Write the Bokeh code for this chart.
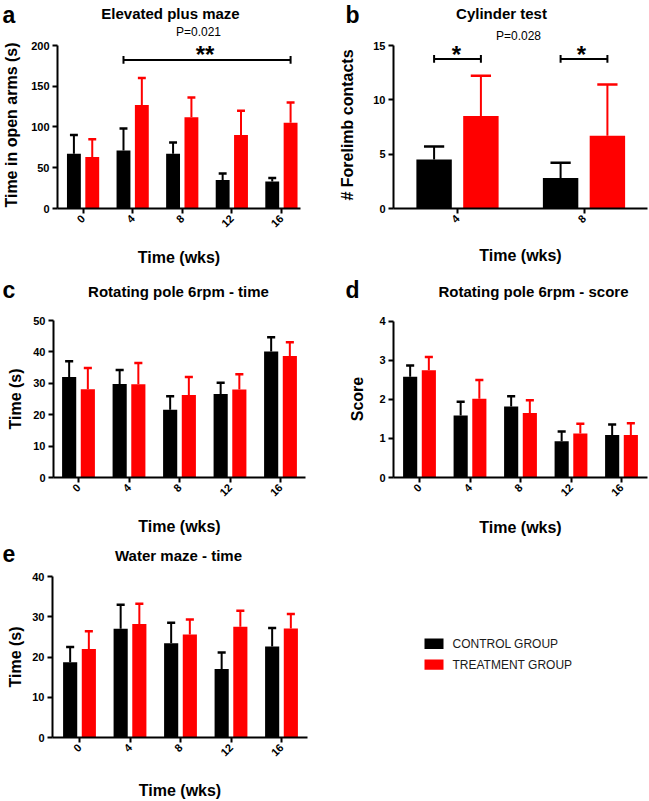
import math
from bokeh.plotting import figure
from bokeh.models import Range1d, FixedTicker, Label, ColumnDataSource
from bokeh.layouts import column, row
from bokeh.embed import file_html
from bokeh.resources import INLINE
from bokeh.core.properties import value

# ---------------- data ----------------
groups = ["CONTROL GROUP", "TREATMENT GROUP"]
group_colors = ["#000000", "#ff0000"]

weeks_all = ["0", "4", "8", "12", "16"]
weeks_cyl = ["4", "8"]

# a: Elevated plus maze (time in open arms, s)
epm_ctrl = [67, 71, 67, 35, 33]
epm_ctrl_sem = [23, 27, 14, 8, 4.5]
epm_treat = [63, 127, 112, 90, 105]
epm_treat_sem = [22, 33, 24, 30, 25]

# b: Cylinder test (# forelimb contacts)
cyl_ctrl = [4.5, 2.8]
cyl_ctrl_sem = [1.2, 1.4]
cyl_treat = [8.5, 6.7]
cyl_treat_sem = [3.7, 4.7]

# c: Rotating pole 6rpm - time (s)
rpt_ctrl = [32.0, 29.8, 21.6, 26.6, 40.1]
rpt_ctrl_sem = [5.0, 4.4, 4.3, 3.6, 4.6]
rpt_treat = [28.1, 29.7, 26.3, 28.0, 38.7]
rpt_treat_sem = [6.8, 6.8, 5.7, 4.9, 4.4]

# d: Rotating pole 6rpm - score
rps_ctrl = [2.58, 1.59, 1.82, 0.93, 1.09]
rps_ctrl_sem = [0.29, 0.35, 0.26, 0.25, 0.27]
rps_treat = [2.75, 2.02, 1.65, 1.13, 1.09]
rps_treat_sem = [0.34, 0.48, 0.33, 0.25, 0.30]

# e: Water maze - time (s)
wm_ctrl = [18.7, 27.0, 23.4, 17.0, 22.6]
wm_ctrl_sem = [3.8, 6.0, 5.1, 4.1, 4.6]
wm_treat = [22.0, 28.2, 25.6, 27.5, 27.1]
wm_treat_sem = [4.4, 5.0, 3.7, 4.0, 3.6]

panel_titles = ["Elevated plus maze", "Cylinder test", "Rotating pole 6rpm - time",
                "Rotating pole 6rpm - score", "Water maze - time"]
panel_letters = ["a", "b", "c", "d", "e"]
p_values = ["P=0.021", "P=0.028"]

# ---------------- style ----------------
FONT = "Liberation Sans"
BAR_W = 0.28
OFF = 0.185
CAP = 0.16
PAGE_W = 649


def panel(cats, ctrl, ctrl_sem, treat, treat_sem, ylabel, yticks,
          origin, size, frame, ytop_px, x0px, step_px, ylab_standoff, xlab_standoff):
    ox, oy = origin
    w, h = size
    l, t, r, b = frame
    ytop = yticks[-1]
    ymax = ytop * (b - t) / (b - ytop_px)
    xr = ((l - x0px) / step_px, (r - x0px) / step_px)
    p = figure(width=w, height=h, x_range=Range1d(*xr), y_range=Range1d(0, ymax),
               output_backend="svg", toolbar_location=None,
               min_border_left=l - ox, min_border_right=ox + w - r,
               min_border_top=t - oy, min_border_bottom=oy + h - b)
    p.outline_line_color = None
    p.grid.visible = False

    idx = list(range(len(cats)))
    for vals, sems, color, sign in ((ctrl, ctrl_sem, group_colors[0], -1),
                                    (treat, treat_sem, group_colors[1], 1)):
        xs = [i + sign * OFF for i in idx]
        tops = [v + s for v, s in zip(vals, sems)]
        src = ColumnDataSource(dict(x=xs, top=vals, err=tops,
                                    cl=[x - CAP / 2 for x in xs],
                                    cr=[x + CAP / 2 for x in xs]))
        p.segment(x0="x", y0="top", x1="x", y1="err", line_color=color,
                  line_width=2, source=src)
        p.segment(x0="cl", y0="err", x1="cr", y1="err", line_color=color,
                  line_width=2.5, source=src)
        p.vbar(x="x", top="top", bottom=0, width=BAR_W, fill_color=color,
               line_color=None, source=src)

    p.xaxis.ticker = FixedTicker(ticks=idx)
    p.xaxis.major_label_overrides = {i: c for i, c in enumerate(cats)}
    p.xaxis.major_label_orientation = math.pi / 4
    p.yaxis.ticker = FixedTicker(ticks=yticks)
    p.yaxis.bounds = (0, ytop)
    p.xaxis.axis_label = "Time (wks)"
    p.yaxis.axis_label = ylabel
    for ax in (p.xaxis[0], p.yaxis[0]):
        ax.axis_line_width = 2
        ax.axis_line_color = "black"
        ax.major_tick_line_width = 2
        ax.major_tick_out = 5
        ax.major_tick_in = 0
        ax.minor_tick_line_color = None
        ax.major_label_text_font = FONT
        ax.major_label_text_font_style = "bold"
        ax.major_label_text_font_size = "11px"
        ax.major_label_text_color = "black"
        ax.major_label_standoff = 3
        ax.axis_label_text_font = FONT
        ax.axis_label_text_font_style = "bold"
        ax.axis_label_text_font_size = "16px"
        ax.axis_label_text_color = "black"
    p.yaxis.axis_label_standoff = ylab_standoff
    p.xaxis.axis_label_standoff = xlab_standoff

    def dx(px):
        return xr[0] + (px - l) / (r - l) * (xr[1] - xr[0])

    def dy(py):
        return (b - py) / (b - ytop_px) * ytop

    return p, dx, dy


def star(p, x, y, text):
    p.add_layout(Label(x=x, y=y, text=text, text_font=FONT, text_font_size="24px",
                       text_font_style="bold", text_align="center",
                       text_baseline="alphabetic", text_color="black"))


def bracket(p, dx, dy, xa, xb, ypx):
    y = dy(ypx)
    hh = dy(ypx - 4) - y
    p.segment(x0=[xa, xa, xb], y0=[y, y - hh, y - hh], x1=[xb, xa, xb],
              y1=[y, y + hh, y + hh], line_color="black", line_width=2)


def header(oy, h, items):
    hp = figure(width=PAGE_W, height=h, x_range=Range1d(0, PAGE_W), y_range=Range1d(h, 0),
                output_backend="svg", toolbar_location=None, min_border=0,
                x_axis_location=None, y_axis_location=None)
    hp.outline_line_color = None
    hp.grid.visible = False
    for text, x, y, size, bold, align in items:
        hp.text(x=[x], y=[y - oy], text=[text], text_font=value(FONT),
                text_font_size=value(size), text_font_style="bold" if bold else "normal",
                text_align=align, text_baseline="middle", text_color="black")
    return hp


LET = "23px"
TIT = "15px"
PV = "12px"

h1 = header(0, 41, [
    (panel_letters[0], 2, 14.5, LET, True, "left"),
    (panel_titles[0], 170, 13, TIT, True, "center"),
    (p_values[0], 198, 31.5, PV, False, "center"),
    (panel_letters[1], 345, 14.5, LET, True, "left"),
    (panel_titles[1], 501, 13, TIT, True, "center"),
    (p_values[1], 518, 35, PV, False, "center"),
])

# ---------------- a ----------------
pa, dxa, dya = panel(weeks_all, epm_ctrl, epm_ctrl_sem, epm_treat, epm_treat_sem,
                     "Time in open arms (s)", [0, 50, 100, 150, 200],
                     (0, 41), (325, 227), (53, 41, 300, 213), 45, 79, 50.4, 8, 15)
bracket(pa, dxa, dya, 1 - OFF, 4 + OFF, 60)
star(pa, dxa(203), dya(54), "**")

# ---------------- b ----------------
pb, dxb, dyb = panel(weeks_cyl, cyl_ctrl, cyl_ctrl_sem, cyl_treat, cyl_treat_sem,
                     "# Forelimb contacts", [0, 5, 10, 15],
                     (325, 41), (324, 227), (393, 41, 647, 213), 45, 457, 126.5, 14, 18)
bracket(pb, dxb, dyb, 0 - OFF, 0 + OFF, 59)
bracket(pb, dxb, dyb, 1 - OFF, 1 + OFF, 59)
star(pb, dxb(456), dyb(54), "*")
star(pb, dxb(581), dyb(54), "*")

h2 = header(268, 40, [
    (panel_letters[2], 2, 289, LET, True, "left"),
    (panel_titles[2], 178, 291, TIT, True, "center"),
    (panel_letters[3], 345, 289, LET, True, "left"),
    (panel_titles[3], 533, 291, TIT, True, "center"),
])

# ---------------- c ----------------
pc, dxc, dyc = panel(weeks_all, rpt_ctrl, rpt_ctrl_sem, rpt_treat, rpt_treat_sem,
                     "Time (s)", [0, 10, 20, 30, 40, 50],
                     (0, 308), (325, 230), (53, 320, 305, 489), 320, 78, 50.5, 6, 15)

# ---------------- d ----------------
pd_, dxd, dyd = panel(weeks_all, rps_ctrl, rps_ctrl_sem, rps_treat, rps_treat_sem,
                      "Score", [0, 1, 2, 3, 4],
                      (325, 308), (324, 230), (393, 320, 647, 489), 321, 419, 50.5, 10, 16)

h3 = header(538, 33, [
    (panel_letters[4], 2, 553, LET, True, "left"),
    (panel_titles[4], 178, 555, TIT, True, "center"),
])

# ---------------- e ----------------
E_ORIGIN, E_SIZE, E_FRAME = (0, 571), (325, 230), (52, 576, 307, 745)
pe, dxe, dye = panel(weeks_all, wm_ctrl, wm_ctrl_sem, wm_treat, wm_treat_sem,
                     "Time (s)", [0, 10, 20, 30, 40],
                     E_ORIGIN, E_SIZE, E_FRAME, 576, 79, 50.5, 5, 19)

# ---------------- legend (shares e's vertical frame, page-pixel ranges) ----------------
LX0, LX1 = 325, 649
pl = figure(width=LX1 - LX0, height=E_SIZE[1],
            x_range=Range1d(LX0, LX1), y_range=Range1d(E_FRAME[3], E_FRAME[1]),
            output_backend="svg", toolbar_location=None,
            min_border_left=0, min_border_right=0,
            min_border_top=E_FRAME[1] - E_ORIGIN[1],
            min_border_bottom=E_ORIGIN[1] + E_SIZE[1] - E_FRAME[3],
            x_axis_location=None, y_axis_location=None)
pl.outline_line_color = None
pl.grid.visible = False
leg_x, leg_y, leg_step = 424, 641, 22
sw_w, sw_h = 19, 11
leg_src = ColumnDataSource(dict(
    x=[leg_x + sw_w / 2 for _ in groups],
    y=[leg_y + sw_h / 2 + i * leg_step for i in range(len(groups))],
    tx=[leg_x + 28 for _ in groups],
    label=groups, color=group_colors))
pl.rect(x="x", y="y", width=sw_w, height=sw_h, fill_color="color", line_color=None,
        source=leg_src)
pl.text(x="tx", y="y", text="label", text_font=value(FONT), text_font_size="12px",
        text_baseline="middle", text_align="left", text_color="#1a1a1a", source=leg_src)

layout = column(h1, row(pa, pb), h2, row(pc, pd_), h3, row(pe, pl))
open("out.html", "w").write(file_html(layout, INLINE))
